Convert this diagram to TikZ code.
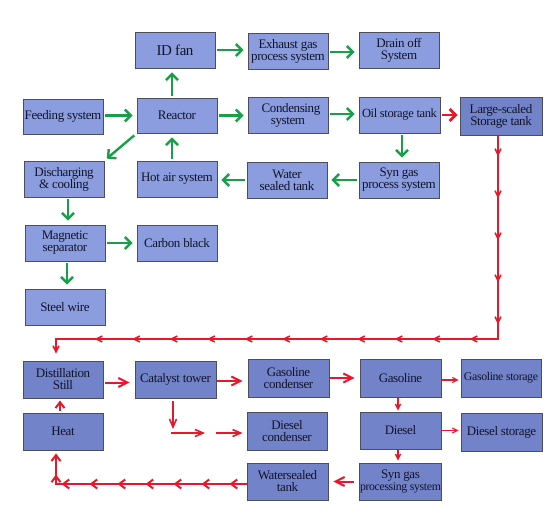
\documentclass[tikz,border=0pt]{standalone}
\usepackage{fontspec}
\setmainfont{Liberation Serif}[LetterSpace=-3.0]
\usetikzlibrary{arrows.meta,decorations.markings}
\definecolor{boxlight}{RGB}{139,157,222}
\definecolor{boxdark}{RGB}{114,131,202}
\definecolor{boxline}{RGB}{75,78,95}
\definecolor{gr}{RGB}{22,160,72}
\definecolor{rd}{RGB}{228,26,42}
\definecolor{txt}{RGB}{18,20,42}
\tikzset{
  box/.style={draw=boxline, line width=0.9pt, fill=boxlight, minimum width=80pt, minimum height=36pt,
    inner sep=1pt, align=center, text=txt, font=\fontsize{13}{12}\selectfont},
  dbox/.style={box, fill=boxdark},
  garrow/.style={draw=gr, line width=2.4pt, -{Straight Barb[length=6pt,width=12pt]}, shorten <=2pt, shorten >=4pt},
  rthick/.style={draw=rd, line width=2.8pt, -{Straight Barb[length=6pt,width=12pt]}},
  rmed/.style={draw=rd, line width=2pt, -{Straight Barb[length=9pt,width=9pt]}},
  rthin/.style={draw=rd, line width=1.1pt, -{Straight Barb[length=5pt,width=5pt]}},
  rchain/.style={draw=rd, line width=1.6pt, -{Straight Barb[length=6pt,width=6pt]},
    postaction={decorate}},
}
\begin{document}
\begin{tikzpicture}[x=1pt,y=-1pt]
\useasboundingbox (0,0) rectangle (559,525);
% top section
\node[box] (idfan) at (175,50) {\fontsize{15}{15}\selectfont ID fan};
\node[box] (exhaust) at (288,51) {Exhaust gas\\process system};
\node[box] (drain) at (399,50) {Drain off\\System};
\node[box, minimum height=35pt] (feed) at (63,116.5) {Feeding system};
\node[box, minimum height=35pt] (reactor) at (177,115.5) {Reactor};
\node[box] (cond) at (288,115) {\hspace*{6pt}Condensing\\system};
\node[box, minimum width=81pt] (oil) at (399.5,115) {\fontsize{12.5}{12}\selectfont Oil storage tank};
\node[dbox, minimum width=82pt, minimum height=38pt] (large) at (501,116) {Large-scaled\\Storage tank};
\node[box] (disch) at (64,179) {Discharging\\\& cooling};
\node[box] (hotair) at (177,179) {Hot air system};
\node[box] (water) at (287,180) {Water\\sealed tank};
\node[box] (syn1) at (399,180) {Syn gas\\process system};
\node[box] (mag) at (65,243) {Magnetic\\separator};
\node[box] (carbon) at (177,243) {Carbon black};
\node[box] (steel) at (65,307) {Steel wire};
% bottom section
\node[dbox, minimum height=37pt] (dist) at (63,379.5) {Distillation\\Still};
\node[dbox, minimum width=81pt, minimum height=37pt] (cat) at (175.5,379.5) {Catalyst tower};
\node[dbox, minimum width=81pt, minimum height=38pt] (gcond) at (288.5,378) {Gasoline\\condenser};
\node[dbox, minimum width=81pt, minimum height=38pt] (gas) at (400.5,378) {Gasoline};
\node[dbox, minimum height=38pt] (gstor) at (501,378) {\fontsize{11.8}{11}\selectfont Gasoline storage};
\node[dbox, minimum height=37pt] (heat) at (63,431.5) {Heat};
\node[dbox, minimum height=38pt] (dcond) at (287,431) {Diesel\\condenser};
\node[dbox, minimum width=81pt, minimum height=37pt] (diesel) at (400.5,430.5) {Diesel};
\node[dbox, minimum width=81pt, minimum height=38pt] (dstor) at (501.5,432) {Diesel storage};
\node[dbox, minimum width=81pt, minimum height=37pt] (wst) at (287.5,481.5) {Watersealed\\tank};
\node[dbox, minimum width=81pt, minimum height=37pt] (syn2) at (400.5,481.5) {Syn gas\\{\fontsize{11.8}{11}\selectfont processing system}};
% green arrows
\draw[garrow] ([yshift=1pt]feed.east) -- ([yshift=1pt]feed.east -| reactor.west);
\draw[garrow] ([xshift=-5pt]reactor.north) -- ([xshift=-5pt]reactor.north |- idfan.south);
\draw[garrow] (idfan.east) -- (idfan.east -| exhaust.west);
\draw[garrow] ([yshift=-1pt]exhaust.east) -- ([yshift=-1pt]exhaust.east -| drain.west);
\draw[garrow] (reactor.east) -- (reactor.east -| cond.west);
\draw[garrow] ([yshift=1pt]cond.east) -- ([yshift=1pt]cond.east -| oil.west);
\draw[garrow] ([xshift=2.5pt]oil.south) -- ([xshift=2.5pt]oil.south |- syn1.north);
\draw[garrow] (syn1.west) -- (syn1.west -| water.east);
\draw[garrow] (water.west) -- (water.west -| hotair.east);
\draw[garrow] ([xshift=-5pt]hotair.north) -- ([xshift=-5pt]hotair.north |- reactor.south);
\draw[garrow, shorten <=3pt, shorten >=3pt] (reactor.south west) -- (disch.north east);
\draw[garrow] ([xshift=4pt]disch.south) -- ([xshift=4pt]disch.south |- mag.north);
\draw[garrow] (mag.east) -- (mag.east -| carbon.west);
\draw[garrow] ([xshift=2pt]mag.south) -- ([xshift=2pt]mag.south |- steel.north);
% red arrows
\draw[rthick, shorten <=2pt, shorten >=2pt] (oil.east) -- (oil.east -| large.west);
\coordinate (c1) at (large.south -| 498,0);
\coordinate (c2) at (498,339);
\coordinate (c3) at (56,339);
\coordinate (c4) at (dist.north -| 56,0);
\draw[rchain, shorten <=1pt, shorten >=7pt,
  decoration={markings,
    mark=between positions 21pt and 195pt step 42pt with {\arrow{Straight Barb[length=6pt,width=6pt]}},
    mark=between positions 232pt and 620pt step 37.5pt with {\arrow{Straight Barb[length=6pt,width=6pt]}}}]
  (c1) -- (c2) -- (c3) -- (c4);
\draw[rmed, shorten <=2pt, shorten >=5pt] ([yshift=-3pt]dist.east) -- ([yshift=-3pt]dist.east -| cat.west);
\draw[rmed, shorten <=1pt, shorten >=5pt] ([yshift=-1.5pt]cat.east) -- ([yshift=-1.5pt]cat.east -| gcond.west);
\draw[rmed, shorten <=1pt, shorten >=5pt] (gcond.east) -- (gcond.east -| gas.west);
\draw[rthin, shorten <=1pt, shorten >=2pt] ([yshift=-2pt]gas.east) -- ([yshift=-2pt]gas.east -| gstor.west);
\draw[rthin, line width=1.4pt, shorten <=1pt, shorten >=1pt] ([xshift=-2.5pt]gas.south) -- ([xshift=-2.5pt]gas.south |- diesel.north);
\draw[rthin, shorten <=1pt, shorten >=2pt] (diesel.east) -- (diesel.east -| dstor.west);
\draw[rthin, line width=1.4pt, shorten <=1pt, shorten >=2pt] ([xshift=-2.5pt]diesel.south) -- ([xshift=-2.5pt]diesel.south |- syn2.north);
\draw[rmed, shorten <=5pt, shorten >=5pt] (syn2.west) -- (syn2.west -| wst.east);
% catalyst branch
\coordinate (k1) at (cat.south -| 173,0);
\coordinate (k2) at (173,429);
\coordinate (k3) at (171,433);
\coordinate (k4) at (205,433);
\coordinate (k5) at (216,433);
\draw[rmed, line width=1.6pt, -{Straight Barb[length=8pt,width=7pt]}, shorten <=3pt] (k1) -- (k2);
\draw[rmed, line width=1.6pt, -{Straight Barb[length=8pt,width=7pt]}] (k3) -- (k4);
\draw[rmed, line width=1.6pt, -{Straight Barb[length=8pt,width=7pt]}, shorten >=4pt] (k5) -- (k5 -| dcond.west);
% heat to distillation
\draw[rmed, -{Straight Barb[length=6pt,width=9pt]}, shorten <=2pt, shorten >=2pt] ([xshift=-3pt]heat.north) -- ([xshift=-3pt]heat.north |- dist.south);
% bottom chain
\coordinate (b2) at (56,484);
\coordinate (b1) at (wst.west |- b2);
\coordinate (b3) at (heat.south -| 56,0);
\draw[draw=rd, line width=2pt, -{Straight Barb[length=6pt,width=9pt]}, shorten >=3pt, postaction={decorate},
  decoration={markings,
    mark=between positions 17pt and 190pt step 28pt with {\arrow{Straight Barb[length=6pt,width=9pt]}},
    mark=at position 200pt with {\arrow{Straight Barb[length=6pt,width=9pt]}}}]
  (b1) -- (b2) -- (b3);
\end{tikzpicture}
\end{document}
